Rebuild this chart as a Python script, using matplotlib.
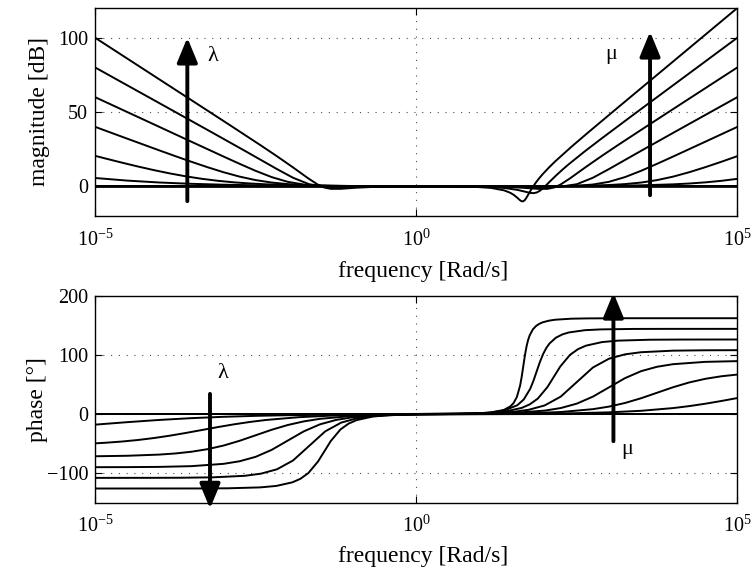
import numpy as np
import matplotlib.pyplot as plt

plt.rcParams['font.family'] = 'Liberation Serif'
plt.rcParams['mathtext.fontset'] = 'custom'
plt.rcParams['mathtext.rm'] = 'Liberation Serif'
plt.rcParams['mathtext.it'] = 'Liberation Serif:italic'

# frequencies are stored as decade exponents (10**exp rad/s)
# lambda family: curves that go to 0 dB / 0 deg at high frequency
lam14_exp = [-5, -3.429, -2.929, -2.429, -2.179, -1.929, -1.804, -1.679, -1.529, -1.429, -1.329, -1.179, -1.054, -0.929, -0.679, -0.429, 0.071, 0.571, 5]
lam14_mag = [100.0, 55.99, 41.96, 27.80, 20.56, 13.06, 9.18, 5.29, 1.08, -0.84, -1.72, -1.71, -1.32, -0.94, -0.44, -0.20, -0.04, -0.01, 0]
lam14_ph = [-126.0, -125.93, -125.63, -124.1, -121.65, -115.6, -109.67, -99.9, -80.4, -63.0, -45.6, -26.1, -16.33, -10.36, -4.35, -1.89, -0.37, -0.07, 0]

lam12_exp = [-5, -4.167, -3.667, -3.167, -2.667, -2.417, -2.167, -1.917, -1.667, -1.417, -1.167, -0.917, -0.667, -0.167, 0.333, 0.833, 5]
lam12_mag = [80.0, 60.0, 47.99, 35.96, 23.85, 17.72, 11.58, 5.74, 1.41, -0.26, -0.42, -0.28, -0.16, -0.04, -0.01, 0.0, 0]
lam12_ph = [-108.0, -107.95, -107.78, -107.13, -104.5, -100.9, -93.48, -78.58, -54.0, -29.42, -14.52, -7.10, -3.50, -0.87, -0.22, -0.06, 0]

lam10_exp = [-5, -4.5, -4, -3.5, -3, -2.75, -2.5, -2.25, -2, -1.75, -1.5, -1.25, -1, -0.5, 0, 0.5, 1, 5]
lam10_mag = [60.0, 50.0, 40.0, 30.0, 20.04, 15.14, 10.41, 6.19, 3.01, 1.19, 0.41, 0.14, 0.04, 0.0, 0, 0, 0, 0]
lam10_ph = [-89.94, -89.82, -89.43, -88.19, -84.29, -79.92, -72.45, -60.64, -45.0, -29.36, -17.55, -10.08, -5.71, -1.81, -0.57, -0.18, -0.06, 0]

lam08_exp = [-5, -4.5, -4, -3.75, -3.5, -3.25, -3, -2.75, -2.5, -2.25, -2, -1.75, -1.5, -1, -0.5, 0, 0.5, 1.25, 5]
lam08_mag = [40.03, 32.07, 24.18, 20.30, 16.50, 12.86, 9.48, 6.52, 4.18, 2.52, 1.48, 0.86, 0.50, 0.18, 0.07, 0.03, 0.01, 0.0, 0]
lam08_ph = [-71.46, -70.64, -68.63, -66.73, -63.83, -59.5, -53.38, -45.33, -36.0, -26.66, -18.63, -12.5, -8.18, -3.37, -1.36, -0.54, -0.22, -0.05, 0]

lam06_exp = [-5, -4.833, -4.583, -4.333, -4.083, -3.833, -3.583, -3.333, -3.083, -2.833, -2.583, -2.333, -1.833, -1.333, -0.833, -0.333, 0.667, 1.667, 5]
lam06_mag = [20.52, 18.66, 15.94, 13.33, 10.88, 8.65, 6.68, 5.02, 3.68, 2.65, 1.88, 1.33, 0.66, 0.33, 0.16, 0.08, 0.02, 0.01, 0]
lam06_ph = [-49.63, -48.58, -46.58, -43.96, -40.64, -36.61, -31.98, -27.0, -22.02, -17.39, -13.36, -10.04, -5.42, -2.82, -1.44, -0.73, -0.18, -0.05, 0]

lam04_exp = [-5, -4.5, -4, -3.5, -3, -2.5, -2, -1, 0, 1, 2, 3, 5]
lam04_mag = [5.59, 3.84, 2.56, 1.67, 1.08, 0.69, 0.44, 0.18, 0.07, 0.03, 0.01, 0.0, 0.0]
lam04_ph = [-18.0, -13.8, -10.04, -7.0, -4.72, -3.11, -2.02, -0.83, -0.33, -0.13, -0.05, -0.02, 0]

# mu family: curves that start at 0 dB / 0 deg at low frequency
mu18_exp = [-5, -0.333, 0.667, 0.917, 1.167, 1.367, 1.467, 1.517, 1.567, 1.617, 1.642, 1.667, 1.692, 1.717, 1.742, 1.767, 1.817, 1.867, 1.917, 1.967, 2.067, 2.167, 2.417, 2.667, 3.167, 3.667, 4.167, 5]
mu18_mag = [0, 0, -0.13, -0.38, -1.10, -2.72, -4.43, -5.74, -7.45, -9.41, -10.09, -10.09, -9.19, -7.61, -5.74, -3.85, -0.34, 2.77, 5.54, 8.08, 12.69, 16.90, 26.62, 35.87, 53.98, 72.0, 90.0, 120.0]
mu18_ph = [0, 0.0, 0.29, 0.83, 2.53, 7.0, 13.0, 18.73, 28.8, 47.9, 62.9, 81.0, 99.09, 114.1, 125.22, 133.2, 143.27, 149.0, 152.6, 155.0, 157.89, 159.5, 161.2, 161.7, 162.0, 162.0, 162.0, 162.0]

mu16_exp = [-5, -0.125, 0.375, 0.875, 1.125, 1.375, 1.575, 1.675, 1.775, 1.825, 1.875, 1.925, 1.975, 2.025, 2.075, 2.175, 2.275, 2.375, 2.625, 2.875, 3.375, 3.875, 5]
mu16_mag = [0, 0, -0.03, -0.18, -0.45, -1.14, -2.41, -3.42, -4.44, -4.61, -4.18, -3.01, -1.24, 0.82, 2.98, 7.19, 11.14, 14.86, 23.55, 31.82, 47.97, 64.0, 100.0]
mu16_ph = [0, 0.02, 0.13, 0.86, 2.24, 6.10, 14.9, 24.7, 42.7, 56.2, 72.0, 87.78, 101.3, 111.66, 119.3, 129.1, 134.6, 137.9, 141.75, 143.1, 143.87, 143.98, 144.0]

mu14_exp = [-5, 0.143, 0.643, 1.143, 1.393, 1.643, 1.768, 1.893, 2.043, 2.143, 2.243, 2.393, 2.518, 2.643, 2.893, 3.143, 3.643, 4.143, 5]
mu14_mag = [0, -0.01, -0.04, -0.20, -0.44, -0.94, -1.32, -1.71, -1.72, -0.84, 1.08, 5.29, 9.18, 13.06, 20.56, 27.80, 41.96, 55.99, 80.0]
mu14_ph = [0, 0.07, 0.37, 1.89, 4.35, 10.36, 16.33, 26.1, 45.6, 63.0, 80.4, 99.9, 109.67, 115.6, 121.65, 124.1, 125.63, 125.93, 126.0]

mu12_exp = [-5, -0.5, 0, 0.5, 1, 1.5, 1.75, 2, 2.25, 2.5, 2.75, 3, 3.25, 3.5, 4, 4.5, 5]
mu12_mag = [0, 0, 0, -0.01, -0.04, -0.16, -0.28, -0.42, -0.26, 1.41, 5.74, 11.58, 17.72, 23.85, 35.96, 47.99, 60.0]
mu12_ph = [0, 0.01, 0.06, 0.22, 0.87, 3.50, 7.10, 14.52, 29.42, 54.0, 78.58, 93.48, 100.9, 104.5, 107.13, 107.78, 107.95]

mu10_exp = [-5, 0, 0.5, 1, 1.5, 2, 2.25, 2.5, 2.75, 3, 3.25, 3.5, 3.75, 4, 4.5, 5]
mu10_mag = [0, 0, 0, 0, 0, 0.04, 0.14, 0.41, 1.19, 3.01, 6.19, 10.41, 15.14, 20.04, 30.0, 40.0]
mu10_ph = [0, 0.06, 0.18, 0.57, 1.81, 5.71, 10.08, 17.55, 29.36, 45.0, 60.64, 72.45, 79.92, 84.29, 88.19, 89.43]

mu08_exp = [-5, -1.25, 0, 0.75, 1.25, 1.75, 2.25, 2.75, 3, 3.25, 3.5, 3.75, 4, 4.25, 4.5, 4.75, 5]
mu08_mag = [0, 0, 0, 0.01, 0.03, 0.07, 0.18, 0.50, 0.86, 1.48, 2.52, 4.18, 6.52, 9.48, 12.86, 16.50, 20.30]
mu08_ph = [0, 0.01, 0.05, 0.22, 0.54, 1.36, 3.37, 8.18, 12.50, 18.63, 26.66, 36.0, 45.33, 53.38, 59.5, 63.83, 66.73]

mu06_exp = [-5, 0, 1, 2, 2.5, 3, 3.5, 4, 4.25, 4.5, 4.75, 5]
mu06_mag = [0, 0.01, 0.02, 0.08, 0.16, 0.33, 0.66, 1.33, 1.88, 2.65, 3.68, 5.02]
mu06_ph = [0, 0.05, 0.18, 0.73, 1.44, 2.82, 5.42, 10.04, 13.36, 17.39, 22.02, 27.0]

curves = [
    (lam14_exp, lam14_mag, lam14_ph), (lam12_exp, lam12_mag, lam12_ph),
    (lam10_exp, lam10_mag, lam10_ph), (lam08_exp, lam08_mag, lam08_ph),
    (lam06_exp, lam06_mag, lam06_ph), (lam04_exp, lam04_mag, lam04_ph),
    (mu18_exp, mu18_mag, mu18_ph), (mu16_exp, mu16_mag, mu16_ph),
    (mu14_exp, mu14_mag, mu14_ph), (mu12_exp, mu12_mag, mu12_ph),
    (mu10_exp, mu10_mag, mu10_ph), (mu08_exp, mu08_mag, mu08_ph),
    (mu06_exp, mu06_mag, mu06_ph),
]

TICK = 14.5
LABEL = 17


def setup(ax, ylim, yticks, ylabel, lab_y, ylab_x):
    ax.set_xscale('log')
    ax.set_xlim(1e-5, 1e5)
    ax.set_ylim(*ylim)
    ax.set_xticks([1e-5, 1, 1e5])
    ax.set_xticklabels([r'$10^{-5}$', r'$10^{0}$', r'$10^{5}$'])
    ax.xaxis.set_minor_locator(plt.NullLocator())
    ax.set_yticks(yticks)
    ax.tick_params(direction='in', top=True, right=True, length=5, width=0.8, labelsize=TICK)
    ax.tick_params(axis='x', pad=9.5)
    ax.tick_params(axis='y', pad=5)
    ax.grid(True, linestyle=(0, (1, 6)), color='0.3', linewidth=0.8)
    for s in ax.spines.values():
        s.set_linewidth(1.0)
    ax.set_xlabel('frequency [Rad/s]', fontsize=LABEL)
    ax.xaxis.set_label_coords(0.51, lab_y)
    ax.set_ylabel(ylabel, fontsize=LABEL)
    ax.yaxis.set_label_coords(ylab_x, 0.5)


def arrow(ax, e, y0, y1):
    ax.annotate('', xy=(10 ** e, y1), xytext=(10 ** e, y0),
                arrowprops=dict(arrowstyle='-|>,head_length=1.5,head_width=0.62',
                                lw=2.8, color='k', shrinkA=0, shrinkB=0,
                                mutation_scale=10, clip_on=False),
                annotation_clip=False)


fig = plt.figure(figsize=(7.54, 5.67), dpi=100)
ax1 = fig.add_axes([0.126, 0.619, 0.852, 0.367])
ax2 = fig.add_axes([0.126, 0.1134, 0.852, 0.365])

for ex, mag, ph in curves:
    f = 10.0 ** np.array(ex)
    ax1.plot(f, mag, color='k', lw=1.4)
    ax2.plot(f, ph, color='k', lw=1.4)

setup(ax1, (-20, 120), [0, 50, 100], 'magnitude [dB]', -0.215, -0.070)
setup(ax2, (-150, 200), [-100, 0, 100, 200], 'phase [°]', -0.207, -0.073)

arrow(ax1, -3.563, -10, 100)
arrow(ax1, 3.64, -6, 104)
arrow(ax2, -3.21, 34, -160)
arrow(ax2, 3.07, -46, 205)

ax1.text(10 ** -3.16, 87, 'λ', fontsize=16, ha='center', va='center')
ax1.text(10 ** 3.03, 89, 'μ', fontsize=16, ha='center', va='center')
ax2.text(10 ** -3.01, 68, 'λ', fontsize=16, ha='center', va='center')
ax2.text(10 ** 3.28, -60, 'μ', fontsize=16, ha='center', va='center')

fig.savefig('out.png', dpi=100)
